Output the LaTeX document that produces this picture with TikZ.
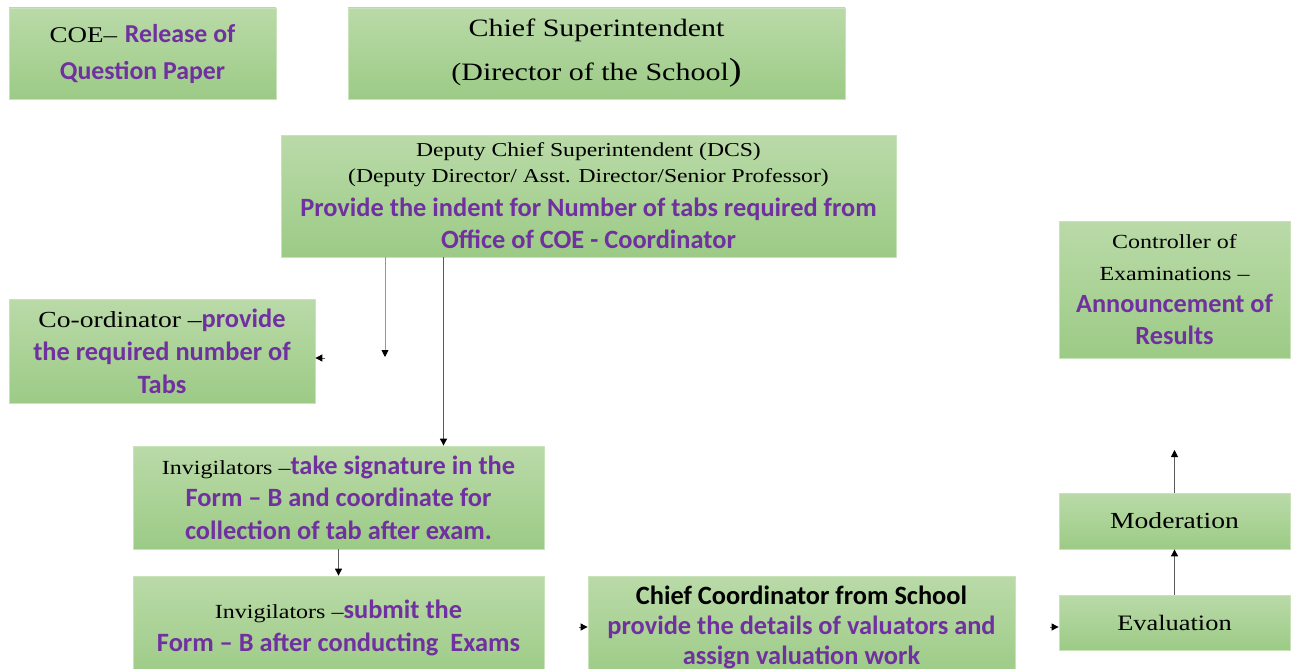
\documentclass[tikz,border=0pt]{standalone}
\usepackage{fontspec}
\usetikzlibrary{arrows.meta}
\newfontfamily\fsr[FakeStretch=1.2]{Liberation Serif}
\newfontfamily\fcb{Carlito}
\definecolor{pur}{RGB}{112,48,160}
\definecolor{gtop}{RGB}{186,218,168}
\definecolor{gbot}{RGB}{156,203,134}
\definecolor{gedge}{RGB}{200,226,186}
\definecolor{lgray}{RGB}{90,90,90}
\definecolor{fgray}{RGB}{150,150,150}
\newcommand{\pb}{\fcb\bfseries\color{pur}}
\begin{document}
\begin{tikzpicture}[x=1pt,y=-1pt,
 box/.style={draw=gedge, line width=0.8pt, top color=gtop, bottom color=gbot, align=center, inner sep=0pt},
 arr/.style={draw=lgray, line width=0.9pt, -{Triangle[length=7pt,width=7pt,color=black]}},
]
\useasboundingbox (0,0) rectangle (1294,669);
\clip (0,0) rectangle (1294,669);

\node[box, minimum width=267pt, minimum height=91pt, font=\fontsize{25.8}{37}\selectfont] (coe) at (142.5,53.5)
 {{\fsr\fontsize{22.5}{37}\selectfont COE–} {\pb Release of}\\{\pb Question Paper}};

\node[box, minimum width=497pt, minimum height=91pt, font=\fsr\fontsize{25}{44}\selectfont] (chief) at (596.5,53.5)
 {Chief Superintendent\\(Director of the School{\fontsize{32}{44}\selectfont )}};

\node[box, minimum width=615pt, minimum height=122pt, font=\fontsize{26.4}{26}\selectfont] (dcs) at (588.5,196)
 {{\fsr\fontsize{19.7}{26}\selectfont Deputy Chief Superintendent (DCS)}\\
  {\fsr\fontsize{19.7}{26}\selectfont (Deputy Director/ Asst. Director/Senior Professor)}\\[8pt]
  {\pb Provide the indent for Number of tabs required from}\\[6pt]
  {\pb Office of COE - Coordinator}};

\node[box, minimum width=306pt, minimum height=104pt, font=\fontsize{26.4}{33}\selectfont] (coord) at (162,351)
 {{\fsr\fontsize{23}{33}\selectfont Co-ordinator –}{\pb provide}\\{\pb the required number of}\\{\pb Tabs}};

\node[box, minimum width=411pt, minimum height=103pt, font=\fontsize{26.4}{32.5}\selectfont] (inv1) at (338.5,497.5)
 {{\fsr\fontsize{20}{32.5}\selectfont Invigilators –}{\pb take signature in the}\\{\pb Form – B and coordinate for}\\{\pb collection of tab after exam.}};

\node[box, minimum width=411pt, minimum height=103pt, font=\fontsize{26.4}{33}\selectfont] (inv2) at (338.5,627.5)
 {{\fsr\fontsize{20}{33}\selectfont Invigilators –}{\pb submit the}\\{\pb Form – B after conducting\ \ Exams}};

\node[box, minimum width=427pt, minimum height=102pt, font=\fontsize{26.4}{30}\selectfont] (cc) at (801.5,627)
 {{\fcb\bfseries Chief Coordinator from School}\\{\pb provide the details of valuators and}\\{\pb assign valuation work}};

\node[box, minimum width=231pt, minimum height=137pt, font=\fontsize{26.3}{32}\selectfont] (ctrl) at (1174.5,289.5)
 {{\fsr\fontsize{20}{32}\selectfont Controller of}\\{\fsr\fontsize{20}{32}\selectfont Examinations –}\\{\pb Announcement of}\\{\pb Results}};

\node[box, minimum width=231pt, minimum height=56pt, font=\fsr\fontsize{23}{30}\selectfont] (mod) at (1174.5,521) {Moderation};
\node[box, minimum width=231pt, minimum height=55pt, font=\fsr\fontsize{22}{30}\selectfont] (eval) at (1174.5,622.5) {Evaluation};

\coordinate (a1) at (385,357);
\coordinate (x443) at (443.5,0);
\coordinate (a2) at (325,358);
\coordinate (a3) at (579,627);
\coordinate (a4) at (1050,627);
\coordinate (a5) at (1174.5,450);

\draw[arr, draw=fgray] (dcs.south -| a1) -- (a1);
\draw[arr] (dcs.south -| x443) -- (inv1.north -| x443);
\draw[arr] (a2) -- (coord.east |- a2);
\draw[arr] (inv1) -- (inv2);
\draw[arr] (a3) -- (cc.west |- a3);
\draw[arr] (a4) -- (eval.west |- a4);
\draw[arr] (eval) -- (mod);
\draw[arr] (mod) -- (a5);
\end{tikzpicture}
\end{document}
